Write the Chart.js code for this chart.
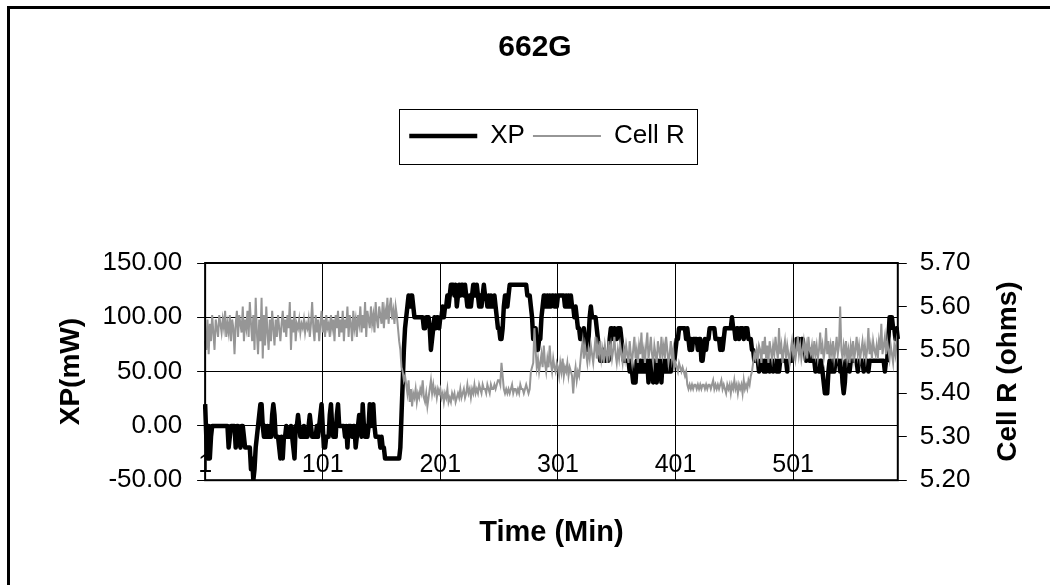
<!DOCTYPE html>
<html>
<head>
<meta charset="utf-8">
<title>662G</title>
<script src="https://cdn.jsdelivr.net/npm/chart.js@4.4.1/dist/chart.umd.min.js"></script>
<style>
  html, body { margin: 0; padding: 0; background: #fff; overflow: hidden; }
  #wrap { width: 1050px; height: 585px; }
</style>
</head>
<body>
<div id="wrap"><canvas id="xpChart" width="1050" height="585"></canvas></div>
<script>
// XP (mW), one reading per minute
const xpValues = [
  20, -10, -30, 0, -30, -10, 0, 0, 0, 0,              // 1-10
  0, 0, 0, 0, 0, 0, 0, 0, 0, 0,                       // 11-20
  -20, -10, 0, 0, 0, 0, -20, 0, 0, -10,               // 21-30
  -20, 0, 0, -10, -20, -20, -20, -20, -20, -40,       // 31-40
  -30, -50, -40, -20, -10, 0, 10, 20, 20, 0,          // 41-50
  -10, 0, -10, 0, -10, 0, -10, 10, 20, 10,            // 51-60
  -10, -10, -10, -20, -30, -10, -30, -10, -10, 0,     // 61-70
  -10, -10, -10, 0, -10, -20, -30, 0, 0, 10,          // 71-80
  0, -10, -10, -10, 0, -10, -10, -10, 0, 10,          // 81-90
  0, -10, -10, -10, -10, 0, -10, 0, 10, 20,           // 91-100
  0, -20, -20, -10, -10, -10, 10, 20, 0, -10,         // 101-110
  0, -10, 10, 20, 0, 0, 0, 0, 0, -10,                 // 111-120
  0, -20, 0, 0, 0, -10, 0, 0, -20, -10,               // 121-130
  0, 10, 0, -10, 20, 0, -10, 0, -10, 0,               // 131-140
  20, 0, 10, 20, 0, -10, -10, -10, -10, -20,          // 141-150
  -10, -20, -20, -30, -30, -30, -30, -30, -30, -30,   // 151-160
  -30, -30, -30, -30, -30, -30, -20, 10, 40, 70,      // 161-170
  90, 100, 110, 120, 110, 120, 120, 110, 100, 100,    // 171-180
  100, 100, 100, 100, 100, 100, 90, 90, 100, 100,     // 181-190
  100, 90, 70, 80, 90, 100, 90, 100, 100, 90,         // 191-200
  100, 100, 110, 100, 110, 110, 120, 110, 120, 130,   // 201-210
  130, 130, 120, 130, 110, 120, 130, 120, 130, 130,   // 211-220
  120, 130, 120, 110, 110, 120, 110, 120, 130, 130,   // 221-230
  120, 130, 120, 110, 120, 110, 120, 130, 120, 120,   // 231-240
  110, 120, 110, 120, 110, 110, 120, 110, 100, 90,    // 241-250
  90, 80, 80, 90, 110, 120, 120, 110, 120, 130,       // 251-260
  130, 130, 130, 130, 130, 130, 130, 130, 130, 130,   // 261-270
  130, 130, 130, 130, 120, 120, 120, 110, 100, 80,    // 271-280
  80, 90, 70, 70, 80, 80, 100, 110, 120, 120,         // 281-290
  110, 120, 110, 120, 110, 120, 120, 110, 120, 110,   // 291-300
  120, 120, 120, 120, 120, 120, 110, 120, 110, 120,   // 301-310
  110, 120, 110, 110, 100, 110, 100, 90, 90, 80,      // 311-320
  80, 80, 90, 80, 70, 70, 80, 100, 110, 100,          // 321-330
  100, 100, 100, 90, 80, 70, 60, 60, 60, 70,          // 331-340
  60, 60, 60, 60, 80, 90, 90, 80, 90, 80,             // 341-350
  80, 90, 90, 90, 80, 70, 60, 60, 60, 60,             // 351-360
  60, 50, 60, 50, 40, 50, 40, 60, 60, 50,             // 361-370
  60, 50, 60, 50, 60, 50, 60, 40, 60, 50,             // 371-380
  60, 40, 60, 50, 40, 60, 50, 60, 40, 60,             // 381-390
  50, 60, 50, 60, 50, 60, 50, 60, 60, 60,             // 391-400
  70, 80, 80, 90, 90, 90, 90, 90, 90, 80,             // 401-410
  90, 80, 70, 80, 70, 80, 80, 80, 80, 70,             // 411-420
  80, 80, 60, 60, 70, 80, 70, 80, 80, 90,             // 421-430
  90, 90, 90, 90, 80, 80, 80, 80, 70, 80,             // 431-440
  70, 80, 90, 90, 90, 90, 90, 90, 100, 90,            // 441-450
  90, 80, 90, 90, 80, 90, 90, 90, 80, 90,             // 451-460
  90, 90, 80, 80, 80, 70, 70, 60, 60, 60,             // 461-470
  60, 50, 60, 60, 60, 50, 60, 50, 60, 60,             // 471-480
  50, 60, 60, 50, 60, 60, 50, 60, 50, 60,             // 481-490
  60, 60, 60, 60, 60, 50, 60, 60, 60, 60,             // 491-500
  70, 70, 70, 80, 80, 80, 70, 80, 80, 70,             // 501-510
  70, 60, 70, 70, 60, 70, 60, 60, 60, 50,             // 511-520
  60, 60, 50, 60, 60, 50, 40, 30, 40, 30,             // 521-530
  50, 60, 60, 50, 60, 50, 60, 60, 60, 60,             // 531-540
  50, 60, 40, 30, 40, 60, 60, 60, 50, 60,             // 541-550
  60, 60, 60, 60, 60, 50, 60, 60, 60, 60,             // 551-560
  50, 60, 60, 60, 50, 60, 60, 60, 60, 60,             // 561-570
  60, 60, 60, 60, 60, 60, 60, 60, 50, 60,             // 571-580
  60, 80, 100, 100, 100, 90, 90, 80, 90, 80           // 581-590
];

// Cell R (ohms)
const cellRValues = [
  5.52, 5.50, 5.57, 5.49, 5.56, 5.52, 5.58, 5.54, 5.50, 5.57,
  5.55, 5.53, 5.58, 5.56, 5.54, 5.57, 5.55, 5.59, 5.53, 5.56,
  5.54, 5.58, 5.52, 5.57, 5.55, 5.49, 5.56, 5.59, 5.53, 5.58,
  5.56, 5.54, 5.60, 5.52, 5.57, 5.55, 5.59, 5.53, 5.61, 5.56,
  5.52, 5.58, 5.50, 5.62, 5.54, 5.49, 5.57, 5.52, 5.62, 5.48,
  5.58, 5.51, 5.60, 5.54, 5.50, 5.57, 5.52, 5.59, 5.55, 5.51,
  5.57, 5.53, 5.58, 5.55, 5.52, 5.56, 5.59, 5.54, 5.57, 5.53,
  5.58, 5.55, 5.61, 5.50, 5.57, 5.54, 5.59, 5.52, 5.56, 5.55,
  5.57, 5.54, 5.56, 5.55, 5.57, 5.54, 5.56, 5.55, 5.57, 5.53,
  5.56, 5.61, 5.55, 5.52, 5.58, 5.54, 5.57, 5.52, 5.56, 5.59,
  5.54, 5.57, 5.53, 5.58, 5.55, 5.56, 5.53, 5.58, 5.55, 5.57,
  5.52, 5.58, 5.55, 5.59, 5.53, 5.57, 5.54, 5.59, 5.52, 5.57,
  5.55, 5.60, 5.53, 5.58, 5.56, 5.52, 5.59, 5.55, 5.57, 5.53,
  5.58, 5.56, 5.60, 5.54, 5.58, 5.55, 5.61, 5.53, 5.59, 5.57,
  5.55, 5.60, 5.56, 5.58, 5.54, 5.61, 5.57, 5.55, 5.60, 5.58,
  5.56, 5.61, 5.55, 5.59, 5.57, 5.62, 5.56, 5.60, 5.62, 5.57,
  5.59, 5.56, 5.60, 5.58, 5.55, 5.52, 5.50, 5.46, 5.45, 5.43,
  5.44, 5.42, 5.40, 5.43, 5.38, 5.41, 5.37, 5.40, 5.39, 5.41,
  5.38, 5.40, 5.39, 5.41, 5.40, 5.43, 5.39, 5.38, 5.40, 5.37,
  5.39, 5.41, 5.43, 5.40, 5.42, 5.40, 5.41, 5.39, 5.41, 5.40,
  5.41, 5.39, 5.40, 5.38, 5.40, 5.39, 5.41, 5.38, 5.39, 5.38,
  5.40, 5.39, 5.40, 5.38, 5.39, 5.40, 5.39, 5.41, 5.39, 5.40,
  5.41, 5.39, 5.40, 5.42, 5.40, 5.41, 5.39, 5.41, 5.40, 5.42,
  5.40, 5.41, 5.40, 5.42, 5.41, 5.40, 5.42, 5.41, 5.41, 5.40,
  5.42, 5.41, 5.40, 5.42, 5.41, 5.41, 5.42, 5.41, 5.42, 5.43,
  5.43, 5.42, 5.47, 5.44, 5.41, 5.40, 5.41, 5.40, 5.41, 5.40,
  5.41, 5.42, 5.40, 5.41, 5.41, 5.40, 5.41, 5.40, 5.42, 5.41,
  5.41, 5.40, 5.41, 5.42, 5.41, 5.40, 5.41, 5.45, 5.46, 5.47,
  5.55, 5.50, 5.46, 5.48, 5.45, 5.47, 5.49, 5.46, 5.51, 5.47,
  5.45, 5.48, 5.46, 5.51, 5.47, 5.45, 5.48, 5.46, 5.45, 5.47,
  5.46, 5.44, 5.47, 5.45, 5.48, 5.44, 5.46, 5.45, 5.47, 5.44,
  5.46, 5.45, 5.44, 5.40, 5.44, 5.46, 5.43, 5.45, 5.44, 5.47,
  5.50, 5.52, 5.48, 5.51, 5.49, 5.47, 5.50, 5.48, 5.51, 5.49,
  5.47, 5.50, 5.53, 5.48, 5.51, 5.49, 5.52, 5.48, 5.50, 5.47,
  5.51, 5.49, 5.47, 5.52, 5.49, 5.51, 5.48, 5.50, 5.53, 5.49,
  5.47, 5.50, 5.48, 5.51, 5.49, 5.47, 5.50, 5.48, 5.51, 5.49,
  5.47, 5.52, 5.49, 5.47, 5.50, 5.53, 5.48, 5.50, 5.47, 5.51,
  5.49, 5.54, 5.48, 5.50, 5.47, 5.51, 5.54, 5.48, 5.50, 5.53,
  5.49, 5.47, 5.51, 5.49, 5.47, 5.52, 5.50, 5.48, 5.53, 5.49,
  5.51, 5.48, 5.53, 5.50, 5.47, 5.49, 5.52, 5.48, 5.50, 5.46,
  5.47, 5.46, 5.45, 5.47, 5.46, 5.45, 5.46, 5.45, 5.44, 5.45,
  5.42, 5.41, 5.42, 5.41, 5.42, 5.41, 5.42, 5.42, 5.41, 5.42,
  5.41, 5.42, 5.41, 5.42, 5.42, 5.41, 5.42, 5.41, 5.42, 5.42,
  5.41, 5.42, 5.43, 5.41, 5.42, 5.41, 5.42, 5.41, 5.42, 5.43,
  5.41, 5.42, 5.41, 5.40, 5.42, 5.41, 5.42, 5.40, 5.42, 5.41,
  5.43, 5.41, 5.42, 5.40, 5.42, 5.41, 5.42, 5.40, 5.43, 5.41,
  5.42, 5.41, 5.43, 5.42, 5.44, 5.45, 5.47, 5.49, 5.48, 5.50,
  5.48, 5.51, 5.50, 5.47, 5.52, 5.49, 5.53, 5.48, 5.51, 5.47,
  5.52, 5.50, 5.48, 5.51, 5.49, 5.53, 5.50, 5.48, 5.55, 5.49,
  5.51, 5.47, 5.50, 5.52, 5.48, 5.51, 5.49, 5.47, 5.50, 5.52,
  5.49, 5.51, 5.48, 5.50, 5.53, 5.49, 5.51, 5.48, 5.50, 5.52,
  5.49, 5.51, 5.48, 5.53, 5.50, 5.49, 5.51, 5.48, 5.52, 5.49,
  5.51, 5.48, 5.50, 5.54, 5.49, 5.51, 5.48, 5.50, 5.55, 5.49,
  5.52, 5.48, 5.51, 5.49, 5.52, 5.48, 5.50, 5.53, 5.49, 5.51,
  5.60, 5.50, 5.48, 5.51, 5.49, 5.52, 5.48, 5.50, 5.47, 5.51,
  5.49, 5.52, 5.48, 5.50, 5.53, 5.49, 5.51, 5.48, 5.50, 5.52,
  5.49, 5.51, 5.48, 5.50, 5.55, 5.49, 5.51, 5.48, 5.52, 5.50,
  5.49, 5.51, 5.48, 5.52, 5.50, 5.56, 5.49, 5.51, 5.53, 5.49,
  5.52, 5.50, 5.48, 5.51, 5.49, 5.47, 5.51, 5.49, 5.52, 5.50
];

// minutes 1..N (category names)
const timeLabels = xpValues.map((_, i) => String(i + 1));
const timeTicks = ['1', '101', '201', '301', '401', '501'];

const FONT = "'Liberation Sans', Arial, sans-serif";
const LEGEND_GAP = 104;   // empty space between legend and plot
const LEGEND_SHIFT = 12;  // legend sits a bit right of centre

Chart.defaults.font.family = FONT;
Chart.defaults.color = '#000';

// extra drawing: white background, plot frame, legend box, outer border,
// and the right axis title that reads bottom to top
const decor = {
  id: 'decor',
  beforeInit(chart) {
    const legend = chart.legend;
    if (!legend) return;
    const fit = legend.fit;
    legend.fit = function () {
      fit.call(this);
      this.height += LEGEND_GAP;
    };
  },
  afterLayout(chart) {
    chart.legend.left += LEGEND_SHIFT;
    chart.legend.right += LEGEND_SHIFT;
  },
  beforeDraw(chart) {
    const ctx = chart.ctx;
    ctx.save();
    ctx.fillStyle = '#fff';
    ctx.fillRect(0, 0, chart.width, chart.height);
    ctx.restore();
  },
  afterDraw(chart) {
    const { ctx, chartArea: a } = chart;
    ctx.save();
    ctx.strokeStyle = '#000';
    ctx.lineWidth = 2;
    ctx.strokeRect(a.left, a.top, a.right - a.left, a.bottom - a.top);

    const boxes = chart.legend.legendHitBoxes;
    if (boxes && boxes.length) {
      const first = boxes[0], last = boxes[boxes.length - 1];
      const cy = first.top + first.height / 2;
      ctx.lineWidth = 1;
      ctx.strokeRect(Math.round(first.left - 10) + 0.5, Math.round(cy - 27.5) + 0.5,
        Math.round(last.left + last.width - first.left + 23), 55);
    }

    ctx.fillStyle = '#000';
    ctx.fillRect(7, 6, 3, chart.height);
    ctx.fillRect(7, 6, chart.width, 3);

    const y1 = chart.scales.y1;
    ctx.translate(y1.right - 25 - 16.8, (a.top + a.bottom) / 2);
    ctx.rotate(-Math.PI / 2);
    ctx.font = 'bold 28px ' + FONT;
    ctx.textAlign = 'center';
    ctx.textBaseline = 'middle';
    ctx.fillText('Cell R (ohms)', 0, 0);
    ctx.restore();
  }
};

new Chart(document.getElementById('xpChart'), {
  type: 'line',
  data: {
    labels: timeLabels,
    datasets: [
      {
        label: 'XP',
        data: xpValues,
        yAxisID: 'y',
        borderColor: '#000',
        backgroundColor: '#000',
        borderWidth: 4.5,
        borderJoinStyle: 'round',
        pointRadius: 0,
        tension: 0,
        order: 1
      },
      {
        label: 'Cell R',
        data: cellRValues,
        yAxisID: 'y1',
        borderColor: '#969696',
        backgroundColor: '#969696',
        borderWidth: 2,
        pointRadius: 0,
        tension: 0,
        order: 0
      }
    ]
  },
  options: {
    responsive: false,
    animation: false,
    devicePixelRatio: 1,
    layout: { padding: { left: 20, right: 0, top: 0, bottom: 0 } },
    plugins: {
      title: {
        display: true,
        text: '662G',
        color: '#000',
        font: { size: 30, weight: 'bold' },
        padding: { top: 30, bottom: 49 }
      },
      legend: {
        position: 'top',
        align: 'center',
        labels: {
          color: '#000',
          font: { size: 26 },
          padding: 8,
          usePointStyle: true,
          pointStyle: 'line',
          pointStyleWidth: 68,
          sort: (a, b) => a.datasetIndex - b.datasetIndex
        }
      },
      tooltip: { enabled: false }
    },
    scales: {
      x: {
        type: 'category',
        offset: false,
        border: { display: false },
        grid: {
          drawTicks: false,
          lineWidth: 1,
          color: (c) => (c.tick && c.tick.label) ? '#000' : 'rgba(0,0,0,0)'
        },
        ticks: {
          autoSkip: false,
          maxRotation: 0,
          mirror: true,
          padding: 0,
          z: 1,
          color: '#000',
          font: { size: 25 },
          callback(value) {
            const label = this.getLabelForValue(value);
            return timeTicks.includes(label) ? label : null;
          }
        },
        title: {
          display: true,
          text: 'Time (Min)',
          color: '#000',
          font: { size: 29, weight: 'bold' },
          padding: { top: 35, bottom: 35 }
        }
      },
      y: {
        position: 'left',
        min: -50,
        max: 150,
        border: { display: false },
        grid: { color: '#000', lineWidth: 1, tickLength: 8 },
        ticks: {
          stepSize: 50,
          padding: 15,
          color: '#000',
          font: { size: 26 },
          callback: (v) => v.toFixed(2)
        },
        title: {
          display: true,
          text: 'XP(mW)',
          color: '#000',
          font: { size: 28, weight: 'bold' },
          padding: { top: 34, bottom: 0 }
        }
      },
      y1: {
        position: 'right',
        min: 5.2,
        max: 5.7,
        border: { display: false },
        grid: { drawOnChartArea: false, color: '#000', lineWidth: 1, tickLength: 9 },
        ticks: {
          stepSize: 0.1,
          padding: 13,
          color: '#000',
          font: { size: 26 },
          callback: (v) => v.toFixed(2)
        },
        title: {
          display: true,
          text: 'Cell R (ohms)',
          color: 'rgba(0,0,0,0)',
          font: { size: 28, weight: 'bold' },
          padding: { top: 25, bottom: 8 }
        }
      }
    }
  },
  plugins: [decor]
});
</script>
</body>
</html>
